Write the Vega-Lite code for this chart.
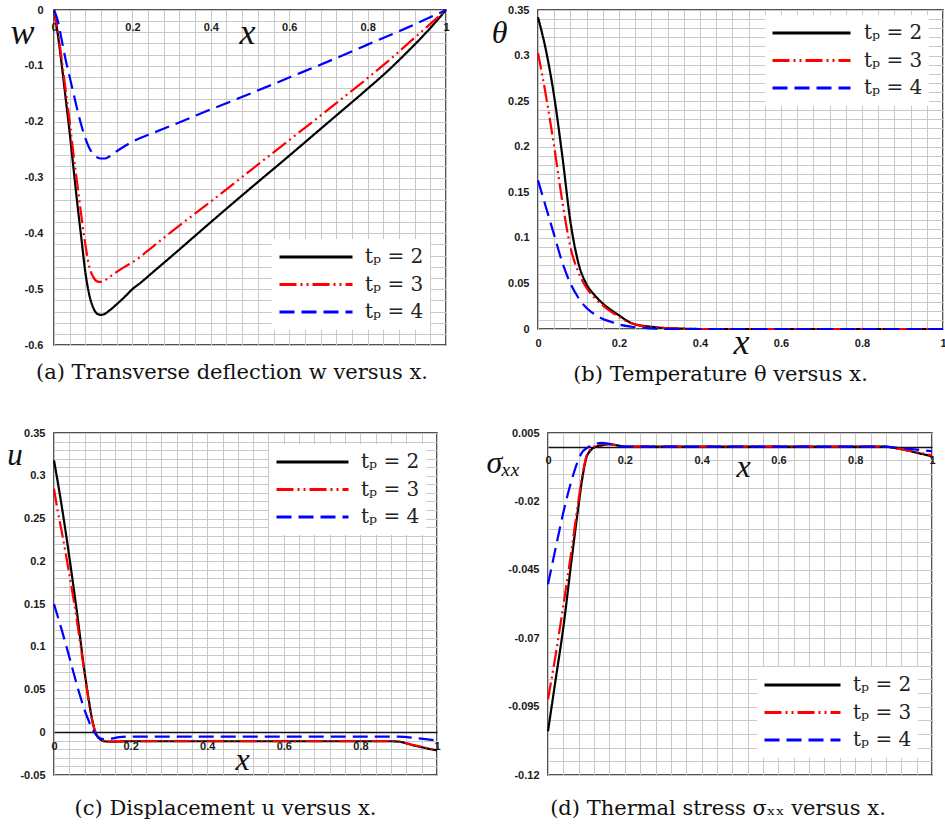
{
  "$schema": "https://vega.github.io/schema/vega-lite/v6.json",
  "padding": {"left": 6, "top": 3, "right": 2, "bottom": 2},
  "background": "white",
  "datasets": {
    "a": [
      {"x":0,"y":0,"tp":"2"},{"x":0.01,"y":-0.045,"tp":"2"},{"x":0.02,"y":-0.1,"tp":"2"},{"x":0.03,"y":-0.16,"tp":"2"},{"x":0.04,"y":-0.22,"tp":"2"},{"x":0.05,"y":-0.285,"tp":"2"},{"x":0.06,"y":-0.35,"tp":"2"},{"x":0.07,"y":-0.41,"tp":"2"},{"x":0.08,"y":-0.47,"tp":"2"},{"x":0.09,"y":-0.51,"tp":"2"},{"x":0.1,"y":-0.533,"tp":"2"},{"x":0.11,"y":-0.544,"tp":"2"},{"x":0.12,"y":-0.546,"tp":"2"},{"x":0.13,"y":-0.544,"tp":"2"},{"x":0.14,"y":-0.539,"tp":"2"},{"x":0.16,"y":-0.527,"tp":"2"},{"x":0.18,"y":-0.514,"tp":"2"},{"x":0.2,"y":-0.5,"tp":"2"},{"x":0.22,"y":-0.489,"tp":"2"},{"x":0.25,"y":-0.471,"tp":"2"},{"x":0.3,"y":-0.441,"tp":"2"},{"x":0.4,"y":-0.38,"tp":"2"},{"x":0.5,"y":-0.32,"tp":"2"},{"x":0.6,"y":-0.261,"tp":"2"},{"x":0.7,"y":-0.201,"tp":"2"},{"x":0.8,"y":-0.141,"tp":"2"},{"x":0.85,"y":-0.11,"tp":"2"},{"x":0.9,"y":-0.076,"tp":"2"},{"x":0.95,"y":-0.04,"tp":"2"},{"x":1,"y":0,"tp":"2"},
      {"x":0,"y":0,"tp":"3"},{"x":0.01,"y":-0.04,"tp":"3"},{"x":0.02,"y":-0.09,"tp":"3"},{"x":0.03,"y":-0.145,"tp":"3"},{"x":0.04,"y":-0.2,"tp":"3"},{"x":0.05,"y":-0.26,"tp":"3"},{"x":0.06,"y":-0.315,"tp":"3"},{"x":0.07,"y":-0.37,"tp":"3"},{"x":0.08,"y":-0.42,"tp":"3"},{"x":0.09,"y":-0.46,"tp":"3"},{"x":0.1,"y":-0.478,"tp":"3"},{"x":0.11,"y":-0.486,"tp":"3"},{"x":0.12,"y":-0.487,"tp":"3"},{"x":0.13,"y":-0.484,"tp":"3"},{"x":0.14,"y":-0.479,"tp":"3"},{"x":0.16,"y":-0.469,"tp":"3"},{"x":0.18,"y":-0.46,"tp":"3"},{"x":0.2,"y":-0.452,"tp":"3"},{"x":0.25,"y":-0.425,"tp":"3"},{"x":0.3,"y":-0.397,"tp":"3"},{"x":0.4,"y":-0.343,"tp":"3"},{"x":0.5,"y":-0.288,"tp":"3"},{"x":0.6,"y":-0.233,"tp":"3"},{"x":0.7,"y":-0.178,"tp":"3"},{"x":0.8,"y":-0.122,"tp":"3"},{"x":0.85,"y":-0.093,"tp":"3"},{"x":0.9,"y":-0.062,"tp":"3"},{"x":0.95,"y":-0.031,"tp":"3"},{"x":1,"y":0,"tp":"3"},
      {"x":0,"y":0,"tp":"4"},{"x":0.01,"y":-0.02,"tp":"4"},{"x":0.02,"y":-0.055,"tp":"4"},{"x":0.03,"y":-0.09,"tp":"4"},{"x":0.04,"y":-0.12,"tp":"4"},{"x":0.05,"y":-0.15,"tp":"4"},{"x":0.06,"y":-0.18,"tp":"4"},{"x":0.07,"y":-0.207,"tp":"4"},{"x":0.08,"y":-0.23,"tp":"4"},{"x":0.09,"y":-0.247,"tp":"4"},{"x":0.1,"y":-0.258,"tp":"4"},{"x":0.11,"y":-0.264,"tp":"4"},{"x":0.12,"y":-0.266,"tp":"4"},{"x":0.13,"y":-0.266,"tp":"4"},{"x":0.14,"y":-0.263,"tp":"4"},{"x":0.16,"y":-0.253,"tp":"4"},{"x":0.18,"y":-0.244,"tp":"4"},{"x":0.2,"y":-0.236,"tp":"4"},{"x":0.25,"y":-0.221,"tp":"4"},{"x":0.3,"y":-0.207,"tp":"4"},{"x":0.4,"y":-0.178,"tp":"4"},{"x":0.5,"y":-0.15,"tp":"4"},{"x":0.6,"y":-0.121,"tp":"4"},{"x":0.7,"y":-0.092,"tp":"4"},{"x":0.8,"y":-0.062,"tp":"4"},{"x":0.9,"y":-0.032,"tp":"4"},{"x":1,"y":0,"tp":"4"}
    ],
    "b": [
      {"x":0,"y":0.342,"tp":"2"},{"x":0.02,"y":0.305,"tp":"2"},{"x":0.04,"y":0.255,"tp":"2"},{"x":0.06,"y":0.19,"tp":"2"},{"x":0.08,"y":0.118,"tp":"2"},{"x":0.1,"y":0.072,"tp":"2"},{"x":0.12,"y":0.049,"tp":"2"},{"x":0.14,"y":0.037,"tp":"2"},{"x":0.16,"y":0.028,"tp":"2"},{"x":0.18,"y":0.021,"tp":"2"},{"x":0.2,"y":0.015,"tp":"2"},{"x":0.22,"y":0.009,"tp":"2"},{"x":0.24,"y":0.005,"tp":"2"},{"x":0.27,"y":0.003,"tp":"2"},{"x":0.3,"y":0.0015,"tp":"2"},{"x":0.35,"y":0.0005,"tp":"2"},{"x":0.4,"y":0,"tp":"2"},{"x":0.5,"y":0,"tp":"2"},{"x":0.6,"y":0,"tp":"2"},{"x":0.7,"y":0,"tp":"2"},{"x":0.8,"y":0,"tp":"2"},{"x":0.9,"y":0,"tp":"2"},{"x":1,"y":0,"tp":"2"},
      {"x":0,"y":0.303,"tp":"3"},{"x":0.02,"y":0.255,"tp":"3"},{"x":0.04,"y":0.2,"tp":"3"},{"x":0.06,"y":0.14,"tp":"3"},{"x":0.08,"y":0.09,"tp":"3"},{"x":0.1,"y":0.062,"tp":"3"},{"x":0.12,"y":0.045,"tp":"3"},{"x":0.14,"y":0.034,"tp":"3"},{"x":0.16,"y":0.026,"tp":"3"},{"x":0.18,"y":0.019,"tp":"3"},{"x":0.2,"y":0.0135,"tp":"3"},{"x":0.22,"y":0.008,"tp":"3"},{"x":0.25,"y":0.004,"tp":"3"},{"x":0.3,"y":0.0015,"tp":"3"},{"x":0.35,"y":0.0005,"tp":"3"},{"x":0.4,"y":0,"tp":"3"},{"x":0.5,"y":0,"tp":"3"},{"x":0.6,"y":0,"tp":"3"},{"x":0.7,"y":0,"tp":"3"},{"x":0.8,"y":0,"tp":"3"},{"x":0.9,"y":0,"tp":"3"},{"x":1,"y":0,"tp":"3"},
      {"x":0,"y":0.163,"tp":"4"},{"x":0.02,"y":0.133,"tp":"4"},{"x":0.04,"y":0.103,"tp":"4"},{"x":0.06,"y":0.073,"tp":"4"},{"x":0.08,"y":0.05,"tp":"4"},{"x":0.1,"y":0.034,"tp":"4"},{"x":0.12,"y":0.023,"tp":"4"},{"x":0.14,"y":0.016,"tp":"4"},{"x":0.16,"y":0.011,"tp":"4"},{"x":0.18,"y":0.008,"tp":"4"},{"x":0.2,"y":0.005,"tp":"4"},{"x":0.23,"y":0.0025,"tp":"4"},{"x":0.27,"y":0.001,"tp":"4"},{"x":0.3,"y":0,"tp":"4"},{"x":0.4,"y":0,"tp":"4"},{"x":0.5,"y":0,"tp":"4"},{"x":0.6,"y":0,"tp":"4"},{"x":0.7,"y":0,"tp":"4"},{"x":0.8,"y":0,"tp":"4"},{"x":0.9,"y":0,"tp":"4"},{"x":1,"y":0,"tp":"4"}
    ],
    "c": [
      {"x":0,"y":0.318,"tp":"2"},{"x":0.02,"y":0.265,"tp":"2"},{"x":0.04,"y":0.205,"tp":"2"},{"x":0.06,"y":0.14,"tp":"2"},{"x":0.08,"y":0.07,"tp":"2"},{"x":0.09,"y":0.04,"tp":"2"},{"x":0.1,"y":0.014,"tp":"2"},{"x":0.11,"y":-0.002,"tp":"2"},{"x":0.12,"y":-0.008,"tp":"2"},{"x":0.13,"y":-0.0105,"tp":"2"},{"x":0.15,"y":-0.011,"tp":"2"},{"x":0.2,"y":-0.0105,"tp":"2"},{"x":0.3,"y":-0.0105,"tp":"2"},{"x":0.4,"y":-0.0105,"tp":"2"},{"x":0.5,"y":-0.0105,"tp":"2"},{"x":0.6,"y":-0.0105,"tp":"2"},{"x":0.7,"y":-0.0105,"tp":"2"},{"x":0.8,"y":-0.0105,"tp":"2"},{"x":0.88,"y":-0.0105,"tp":"2"},{"x":0.9,"y":-0.011,"tp":"2"},{"x":0.92,"y":-0.013,"tp":"2"},{"x":0.94,"y":-0.0155,"tp":"2"},{"x":0.96,"y":-0.0175,"tp":"2"},{"x":0.98,"y":-0.0195,"tp":"2"},{"x":1,"y":-0.021,"tp":"2"},
      {"x":0,"y":0.285,"tp":"3"},{"x":0.01,"y":0.258,"tp":"3"},{"x":0.02,"y":0.235,"tp":"3"},{"x":0.04,"y":0.185,"tp":"3"},{"x":0.06,"y":0.13,"tp":"3"},{"x":0.08,"y":0.068,"tp":"3"},{"x":0.09,"y":0.038,"tp":"3"},{"x":0.1,"y":0.013,"tp":"3"},{"x":0.11,"y":-0.002,"tp":"3"},{"x":0.12,"y":-0.008,"tp":"3"},{"x":0.13,"y":-0.0105,"tp":"3"},{"x":0.15,"y":-0.011,"tp":"3"},{"x":0.2,"y":-0.0105,"tp":"3"},{"x":0.3,"y":-0.0105,"tp":"3"},{"x":0.4,"y":-0.0105,"tp":"3"},{"x":0.5,"y":-0.0105,"tp":"3"},{"x":0.6,"y":-0.0105,"tp":"3"},{"x":0.7,"y":-0.0105,"tp":"3"},{"x":0.8,"y":-0.0105,"tp":"3"},{"x":0.88,"y":-0.0105,"tp":"3"},{"x":0.9,"y":-0.011,"tp":"3"},{"x":0.92,"y":-0.0128,"tp":"3"},{"x":0.94,"y":-0.015,"tp":"3"},{"x":0.96,"y":-0.017,"tp":"3"},{"x":0.98,"y":-0.019,"tp":"3"},{"x":1,"y":-0.0205,"tp":"3"},
      {"x":0,"y":0.15,"tp":"4"},{"x":0.02,"y":0.12,"tp":"4"},{"x":0.04,"y":0.088,"tp":"4"},{"x":0.06,"y":0.055,"tp":"4"},{"x":0.08,"y":0.026,"tp":"4"},{"x":0.09,"y":0.014,"tp":"4"},{"x":0.1,"y":0.004,"tp":"4"},{"x":0.11,"y":-0.003,"tp":"4"},{"x":0.12,"y":-0.007,"tp":"4"},{"x":0.13,"y":-0.008,"tp":"4"},{"x":0.15,"y":-0.0075,"tp":"4"},{"x":0.17,"y":-0.0058,"tp":"4"},{"x":0.2,"y":-0.005,"tp":"4"},{"x":0.3,"y":-0.005,"tp":"4"},{"x":0.4,"y":-0.005,"tp":"4"},{"x":0.5,"y":-0.005,"tp":"4"},{"x":0.6,"y":-0.005,"tp":"4"},{"x":0.7,"y":-0.005,"tp":"4"},{"x":0.8,"y":-0.005,"tp":"4"},{"x":0.88,"y":-0.005,"tp":"4"},{"x":0.9,"y":-0.0052,"tp":"4"},{"x":0.94,"y":-0.0065,"tp":"4"},{"x":0.97,"y":-0.008,"tp":"4"},{"x":1,"y":-0.0098,"tp":"4"}
    ],
    "d": [
      {"x":0,"y":-0.104,"tp":"2"},{"x":0.02,"y":-0.085,"tp":"2"},{"x":0.04,"y":-0.066,"tp":"2"},{"x":0.06,"y":-0.043,"tp":"2"},{"x":0.08,"y":-0.021,"tp":"2"},{"x":0.09,"y":-0.011,"tp":"2"},{"x":0.1,"y":-0.004,"tp":"2"},{"x":0.11,"y":-0.0015,"tp":"2"},{"x":0.12,"y":-0.0003,"tp":"2"},{"x":0.14,"y":0.0005,"tp":"2"},{"x":0.16,"y":0.0009,"tp":"2"},{"x":0.18,"y":0.0005,"tp":"2"},{"x":0.2,"y":0,"tp":"2"},{"x":0.3,"y":0,"tp":"2"},{"x":0.4,"y":0,"tp":"2"},{"x":0.5,"y":0,"tp":"2"},{"x":0.6,"y":0,"tp":"2"},{"x":0.7,"y":0,"tp":"2"},{"x":0.8,"y":0,"tp":"2"},{"x":0.88,"y":0,"tp":"2"},{"x":0.9,"y":-0.0004,"tp":"2"},{"x":0.93,"y":-0.0012,"tp":"2"},{"x":0.96,"y":-0.0022,"tp":"2"},{"x":1,"y":-0.0035,"tp":"2"},
      {"x":0,"y":-0.0923,"tp":"3"},{"x":0.02,"y":-0.076,"tp":"3"},{"x":0.04,"y":-0.058,"tp":"3"},{"x":0.06,"y":-0.039,"tp":"3"},{"x":0.08,"y":-0.019,"tp":"3"},{"x":0.09,"y":-0.01,"tp":"3"},{"x":0.1,"y":-0.0035,"tp":"3"},{"x":0.11,"y":-0.001,"tp":"3"},{"x":0.12,"y":0,"tp":"3"},{"x":0.14,"y":0.001,"tp":"3"},{"x":0.16,"y":0.0009,"tp":"3"},{"x":0.18,"y":0.0005,"tp":"3"},{"x":0.2,"y":0,"tp":"3"},{"x":0.3,"y":0,"tp":"3"},{"x":0.4,"y":0,"tp":"3"},{"x":0.5,"y":0,"tp":"3"},{"x":0.6,"y":0,"tp":"3"},{"x":0.7,"y":0,"tp":"3"},{"x":0.8,"y":0,"tp":"3"},{"x":0.88,"y":0,"tp":"3"},{"x":0.9,"y":-0.0004,"tp":"3"},{"x":0.93,"y":-0.0012,"tp":"3"},{"x":0.96,"y":-0.002,"tp":"3"},{"x":1,"y":-0.0032,"tp":"3"},
      {"x":0,"y":-0.0503,"tp":"4"},{"x":0.02,"y":-0.037,"tp":"4"},{"x":0.04,"y":-0.024,"tp":"4"},{"x":0.06,"y":-0.013,"tp":"4"},{"x":0.08,"y":-0.0045,"tp":"4"},{"x":0.09,"y":-0.0018,"tp":"4"},{"x":0.1,"y":-0.0006,"tp":"4"},{"x":0.11,"y":0.0003,"tp":"4"},{"x":0.12,"y":0.0009,"tp":"4"},{"x":0.14,"y":0.0014,"tp":"4"},{"x":0.16,"y":0.001,"tp":"4"},{"x":0.18,"y":0.0004,"tp":"4"},{"x":0.2,"y":0,"tp":"4"},{"x":0.3,"y":0,"tp":"4"},{"x":0.4,"y":0,"tp":"4"},{"x":0.5,"y":0,"tp":"4"},{"x":0.6,"y":0,"tp":"4"},{"x":0.7,"y":0,"tp":"4"},{"x":0.8,"y":0,"tp":"4"},{"x":0.88,"y":0,"tp":"4"},{"x":0.9,"y":-0.0002,"tp":"4"},{"x":0.94,"y":-0.0008,"tp":"4"},{"x":1,"y":-0.0017,"tp":"4"}
    ]
  },
  "config": {
    "view": {"stroke": "#1a1a1a", "strokeWidth": 1.5},
    "axis": {
      "grid": true, "gridColor": "#c9c9c9", "gridWidth": 1,
      "domain": false, "ticks": false, "tickSize": 0,
      "labelFont": "Liberation Sans", "labelFontWeight": "bold", "labelFontSize": 11, "labelColor": "#1a1a1a",
      "labelFlush": false, "labelOverlap": false, "labelBound": false,
      "titleFont": "Liberation Serif", "titleFontStyle": "italic", "titleFontWeight": "normal", "titleColor": "#111111",
      "titleAngle": 0, "titleAlign": "center", "titleBaseline": "alphabetic"
    },
    "legend": {
      "orient": "none", "fillColor": "white", "padding": 6,
      "labelFont": "DejaVu Serif", "labelFontSize": 20, "labelColor": "#222222",
      "symbolStrokeWidth": 3, "clipHeight": 24, "rowPadding": 3.5, "symbolType": "stroke"
    },
    "title": {"font": "DejaVu Serif", "fontSize": 21, "fontWeight": "normal", "color": "#111111", "orient": "bottom", "anchor": "middle"}
  },
  "resolve": {"scale": {"color": "independent", "strokeDash": "independent"}, "legend": {"color": "independent", "strokeDash": "independent"}},
  "spacing": 40,
  "vconcat": [
    {
      "bounds": "flush",
      "spacing": 92,
      "resolve": {"scale": {"color": "independent", "strokeDash": "independent"}, "legend": {"color": "independent", "strokeDash": "independent"}},
      "hconcat": [
        {
          "width": 392, "height": 335,
          "title": {"text": "(a) Transverse deflection w versus x.", "dx": -18, "offset": 12},
          "data": {"name": "a"},
          "mark": {"type": "line", "interpolate": "monotone", "strokeWidth": 2.2, "clip": false},
          "encoding": {
            "x": {"field": "x", "type": "quantitative", "scale": {"domain": [0, 1], "nice": false, "zero": false},
              "axis": {"orient": "bottom", "offset": -335, "labelBaseline": "top", "labelPadding": 11,
                "values": [0,0.04,0.08,0.12,0.16,0.2,0.24,0.28,0.32,0.36,0.4,0.44,0.48,0.52,0.56,0.6,0.64,0.68,0.72,0.76,0.8,0.84,0.88,0.92,0.96,1],
                "labelExpr": "indexof([0,0.2,0.4,0.6,0.8,1], datum.value) >= 0 ? '' + datum.value : ''",
                "title": "x", "titleFontSize": 36, "titleX": 193, "titleY": 33}},
            "y": {"field": "y", "type": "quantitative", "scale": {"domain": [-0.6, 0], "nice": false, "zero": false},
              "axis": {"labelPadding": 11,
                "values": [-0.6,-0.58,-0.56,-0.54,-0.52,-0.5,-0.48,-0.46,-0.44,-0.42,-0.4,-0.38,-0.36,-0.34,-0.32,-0.3,-0.28,-0.26,-0.24,-0.22,-0.2,-0.18,-0.16,-0.14,-0.12,-0.1,-0.08,-0.06,-0.04,-0.02,0],
                "labelExpr": "indexof([-0.6,-0.5,-0.4,-0.3,-0.2,-0.1,0], datum.value) >= 0 ? '' + datum.value : ''",
                "title": "w", "titleFontSize": 36, "titleX": -32, "titleY": 33}},
            "color": {"field": "tp", "type": "nominal", "scale": {"domain": ["2","3","4"], "range": ["#000000","#ff0000","#0000ff"]},
              "legend": {"title": null, "legendX": 218, "legendY": 229, "symbolSize": 5329, "labelOffset": 11, "labelExpr": "'tₚ = ' + datum.label"}},
            "strokeDash": {"field": "tp", "type": "nominal", "scale": {"domain": ["2","3","4"], "range": [[1,0],[17,4,2,4,2,4],[15,7]]},
              "legend": {"title": null, "legendX": 218, "legendY": 229, "symbolSize": 5329, "labelOffset": 11, "labelExpr": "'tₚ = ' + datum.label"}}
          }
        },
        {
          "width": 405, "height": 319,
          "title": {"text": "(b) Temperature θ versus x.", "dx": -20, "offset": 4},
          "data": {"name": "b"},
          "mark": {"type": "line", "interpolate": "monotone", "strokeWidth": 2.2, "clip": false},
          "encoding": {
            "x": {"field": "x", "type": "quantitative", "scale": {"domain": [0, 1], "nice": false, "zero": false},
              "axis": {"orient": "bottom", "labelBaseline": "top", "labelPadding": 8.5,
                "values": [0,0.04,0.08,0.12,0.16,0.2,0.24,0.28,0.32,0.36,0.4,0.44,0.48,0.52,0.56,0.6,0.64,0.68,0.72,0.76,0.8,0.84,0.88,0.92,0.96,1],
                "labelExpr": "indexof([0,0.2,0.4,0.6,0.8,1], datum.value) >= 0 ? '' + datum.value : ''",
                "title": "x", "titleFontSize": 36, "titleX": 203, "titleY": 24}},
            "y": {"field": "y", "type": "quantitative", "scale": {"domain": [0, 0.35], "nice": false, "zero": false},
              "axis": {"labelPadding": 9,
                "values": [0,0.01,0.02,0.03,0.04,0.05,0.06,0.07,0.08,0.09,0.1,0.11,0.12,0.13,0.14,0.15,0.16,0.17,0.18,0.19,0.2,0.21,0.22,0.23,0.24,0.25,0.26,0.27,0.28,0.29,0.3,0.31,0.32,0.33,0.34,0.35],
                "labelExpr": "indexof([0,0.05,0.1,0.15,0.2,0.25,0.3,0.35], datum.value) >= 0 ? '' + datum.value : ''",
                "title": "θ", "titleFontSize": 32, "titleX": -39, "titleY": 32}},
            "color": {"field": "tp", "type": "nominal", "scale": {"domain": ["2","3","4"], "range": ["#000000","#ff0000","#0000ff"]},
              "legend": {"title": null, "legendX": 227, "legendY": 5, "symbolSize": 6084, "labelOffset": 12, "labelExpr": "'tₚ = ' + datum.label"}},
            "strokeDash": {"field": "tp", "type": "nominal", "scale": {"domain": ["2","3","4"], "range": [[1,0],[17,4,2,4,2,4],[15,7]]},
              "legend": {"title": null, "legendX": 227, "legendY": 5, "symbolSize": 6084, "labelOffset": 12, "labelExpr": "'tₚ = ' + datum.label"}}
          }
        }
      ]
    },
    {
      "bounds": "flush",
      "spacing": 111,
      "resolve": {"scale": {"color": "independent", "strokeDash": "independent"}, "legend": {"color": "independent", "strokeDash": "independent"}},
      "hconcat": [
        {
          "width": 383, "height": 342,
          "title": {"text": "(c) Displacement u versus x.", "dx": -20, "offset": 18},
          "data": {"name": "c"},
          "mark": {"type": "line", "interpolate": "monotone", "strokeWidth": 2.2, "clip": false},
          "encoding": {
            "x": {"field": "x", "type": "quantitative", "scale": {"domain": [0, 1], "nice": false, "zero": false},
              "axis": {"orient": "bottom", "offset": -42.75, "labelBaseline": "top", "labelPadding": 8.5,
                "values": [0,0.04,0.08,0.12,0.16,0.2,0.24,0.28,0.32,0.36,0.4,0.44,0.48,0.52,0.56,0.6,0.64,0.68,0.72,0.76,0.8,0.84,0.88,0.92,0.96,1],
                "labelExpr": "indexof([0,0.2,0.4,0.6,0.8,1], datum.value) >= 0 ? '' + datum.value : ''",
                "title": "x", "titleFontSize": 32, "titleX": 188, "titleY": 37}},
            "y": {"field": "y", "type": "quantitative", "scale": {"domain": [-0.05, 0.35], "nice": false, "zero": false},
              "axis": {"labelPadding": 9,
                "values": [-0.05,-0.04,-0.03,-0.02,-0.01,0,0.01,0.02,0.03,0.04,0.05,0.06,0.07,0.08,0.09,0.1,0.11,0.12,0.13,0.14,0.15,0.16,0.17,0.18,0.19,0.2,0.21,0.22,0.23,0.24,0.25,0.26,0.27,0.28,0.29,0.3,0.31,0.32,0.33,0.34,0.35],
                "labelExpr": "indexof([-0.05,0,0.05,0.1,0.15,0.2,0.25,0.3,0.35], datum.value) >= 0 ? '' + datum.value : ''",
                "gridColor": {"condition": {"test": "datum.value === 0", "value": "#111111"}, "value": "#c9c9c9"},
                "gridWidth": {"condition": {"test": "datum.value === 0", "value": 1.3}, "value": 1},
                "title": "u", "titleFontSize": 31, "titleX": -39.5, "titleY": 31}},
            "color": {"field": "tp", "type": "nominal", "scale": {"domain": ["2","3","4"], "range": ["#000000","#ff0000","#0000ff"]},
              "legend": {"title": null, "legendX": 215, "legendY": 11, "symbolSize": 5184, "labelOffset": 11, "labelExpr": "'tₚ = ' + datum.label"}},
            "strokeDash": {"field": "tp", "type": "nominal", "scale": {"domain": ["2","3","4"], "range": [[1,0],[17,4,2,4,2,4],[15,7]]},
              "legend": {"title": null, "legendX": 215, "legendY": 11, "symbolSize": 5184, "labelOffset": 11, "labelExpr": "'tₚ = ' + datum.label"}}
          }
        },
        {
          "width": 384, "height": 342,
          "title": {"text": "(d) Thermal stress σₓₓ versus x.", "dx": -22, "offset": 18},
          "data": {"name": "d"},
          "mark": {"type": "line", "interpolate": "monotone", "strokeWidth": 2.2, "clip": false},
          "encoding": {
            "x": {"field": "x", "type": "quantitative", "scale": {"domain": [0, 1], "nice": false, "zero": false},
              "axis": {"orient": "bottom", "offset": -328.3, "labelBaseline": "top", "labelPadding": 8,
                "values": [0,0.04,0.08,0.12,0.16,0.2,0.24,0.28,0.32,0.36,0.4,0.44,0.48,0.52,0.56,0.6,0.64,0.68,0.72,0.76,0.8,0.84,0.88,0.92,0.96,1],
                "labelExpr": "indexof([0,0.2,0.4,0.6,0.8,1], datum.value) >= 0 ? '' + datum.value : ''",
                "title": "x", "titleFontSize": 32, "titleX": 195, "titleY": 30}},
            "y": {"field": "y", "type": "quantitative", "scale": {"domain": [-0.12, 0.005], "nice": false, "zero": false},
              "axis": {"labelPadding": 9,
                "values": [-0.12,-0.115,-0.11,-0.105,-0.1,-0.095,-0.09,-0.085,-0.08,-0.075,-0.07,-0.065,-0.06,-0.055,-0.05,-0.045,-0.04,-0.035,-0.03,-0.025,-0.02,-0.015,-0.01,-0.005,0,0.005],
                "labelExpr": "indexof([-0.12,-0.095,-0.07,-0.045,-0.02,0.005], datum.value) >= 0 ? '' + datum.value : ''",
                "gridColor": {"condition": {"test": "datum.value === 0", "value": "#111111"}, "value": "#c9c9c9"},
                "gridWidth": {"condition": {"test": "datum.value === 0", "value": 1.3}, "value": 1},
                "title": "σₓₓ", "titleFontSize": 32, "titleX": -45, "titleY": 39}},
            "color": {"field": "tp", "type": "nominal", "scale": {"domain": ["2","3","4"], "range": ["#000000","#ff0000","#0000ff"]},
              "legend": {"title": null, "legendX": 209, "legendY": 234, "symbolSize": 5776, "labelOffset": 11, "labelExpr": "'tₚ = ' + datum.label"}},
            "strokeDash": {"field": "tp", "type": "nominal", "scale": {"domain": ["2","3","4"], "range": [[1,0],[17,4,2,4,2,4],[15,7]]},
              "legend": {"title": null, "legendX": 209, "legendY": 234, "symbolSize": 5776, "labelOffset": 11, "labelExpr": "'tₚ = ' + datum.label"}}
          }
        }
      ]
    }
  ]
}
